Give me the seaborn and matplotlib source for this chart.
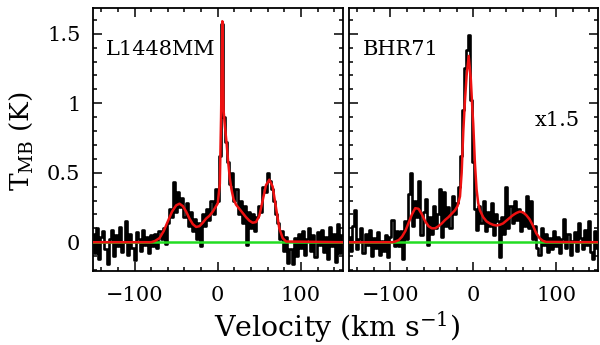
import numpy as np
import pandas as pd
import matplotlib
matplotlib.use("Agg")
import matplotlib.pyplot as plt
import seaborn as sns
from matplotlib.ticker import MultipleLocator, FixedLocator

# ---------------- data ----------------
velocity = np.arange(-150, 150.01, 2.5)  # channel centres, km/s

l1448_T = [
    0.06, -0.08, 0.10, -0.12, 0.04, 0.08, -0.05, -0.16, 0.02, 0.09,
    -0.10, 0.05, -0.03, 0.11, -0.07, 0.00, 0.15, -0.09, 0.06, -0.04,
    -0.13, 0.07, 0.02, -0.06, 0.09, -0.02, 0.04, -0.08, 0.05, -0.03,
    0.06, -0.04, 0.08, 0.02, 0.10, -0.01, 0.14, 0.24, 0.18, 0.43,
    0.22, 0.36, 0.25, 0.32, 0.18, 0.28, 0.12, 0.22, 0.08, 0.17,
    0.02, 0.14, -0.03, 0.20, 0.12, 0.24, 0.16, 0.30, 0.20, 0.38,
    0.30, 0.62, 1.57, 0.90, 0.72, 0.58, 0.42, 0.50, 0.30, 0.38,
    0.20, 0.30, 0.14, 0.26, -0.02, 0.22, 0.10, 0.20, 0.08, 0.18,
    0.26, 0.22, 0.40, 0.36, 0.50, 0.44, 0.38, 0.30, 0.20, 0.14,
    0.02, 0.08, -0.06, 0.04, -0.15, -0.05, -0.16, 0.03, -0.10, 0.06,
    -0.04, 0.08, -0.09, 0.02, 0.10, -0.06, 0.05, -0.11, 0.07, -0.02,
    0.09, -0.07, 0.04, -0.12, 0.11, -0.03, 0.06, -0.14, 0.13, -0.08, 0.05,
]

bhr71_T = [
    0.04, -0.06, 0.12, 0.23, -0.05, 0.02, 0.10, -0.08, 0.06, -0.02,
    0.09, -0.10, 0.03, -0.04, 0.07, -0.09, 0.01, -0.06, 0.05, -0.11,
    0.04, 0.16, -0.03, 0.08, -0.03, 0.08, -0.12, 0.15, 0.02, 0.35,
    0.50, 0.12, 0.30, 0.18, 0.44, 0.05, 0.22, 0.31, -0.02, 0.18,
    0.06, 0.26, 0.10, 0.20, 0.38, 0.04, 0.36, 0.12, 0.25, 0.10,
    0.33, 0.20, 0.28, 0.40, 0.62, 0.95, 1.25, 1.38, 1.49, 1.02,
    0.58, 0.24, 0.09, 0.26, 0.14, 0.30, 0.08, 0.22, 0.12, 0.28,
    0.05, 0.20, 0.15, -0.11, 0.18, 0.06, 0.40, 0.10, 0.26, 0.14,
    0.30, 0.16, 0.24, 0.08, 0.20, 0.12, 0.33, 0.10, 0.30, 0.02,
    0.12, -0.04, -0.09, 0.10, -0.02, 0.06, -0.07, 0.03, -0.05, 0.08,
    -0.03, 0.04, -0.08, 0.02, 0.17, -0.04, 0.06, -0.09, 0.01, 0.07,
    -0.06, 0.14, 0.03, -0.05, 0.09, -0.02, 0.15, -0.07, -0.12, 0.08, -0.04,
]

# model fits
l1448_fit_v = [-150, -80, -75, -70, -65, -60, -55, -50, -46, -42, -38, -34, -30,
               -26, -22, -18, -14, -10, -6, -3, 0, 2.5, 4, 5.5, 7, 8.5, 10.5,
               12.5, 14.5, 16.5, 19, 22, 26, 30, 34, 38, 42, 46, 50, 54, 58,
               62, 66, 70, 74, 78, 82, 150]
l1448_fit_T = [0, 0, 0.01, 0.03, 0.08, 0.15, 0.22, 0.265, 0.277, 0.26, 0.22,
               0.17, 0.13, 0.11, 0.115, 0.14, 0.17, 0.19, 0.22, 0.25, 0.28,
               0.42, 0.90, 1.59, 0.95, 0.84, 0.72, 0.58, 0.46, 0.38, 0.31,
               0.27, 0.24, 0.21, 0.18, 0.155, 0.14, 0.145, 0.19, 0.30, 0.41,
               0.45, 0.40, 0.25, 0.10, 0.03, 0.005, 0]

bhr71_fit_v = [-150, -98, -94, -90, -86, -82, -78, -74, -70, -66, -62, -58,
               -54, -50, -46, -42, -38, -34, -30, -26, -22, -19, -16, -14, -12,
               -10, -8, -5.5, -3, -1, 0, 2, 4, 6, 8, 12, 16, 20, 24, 28, 32,
               36, 40, 44, 48, 52, 56, 60, 64, 68, 72, 76, 80, 84, 88, 150]
bhr71_fit_T = [0, 0, 0.005, 0.015, 0.04, 0.08, 0.14, 0.20, 0.245, 0.24, 0.20,
               0.15, 0.115, 0.10, 0.10, 0.115, 0.135, 0.16, 0.18, 0.205, 0.23,
               0.26, 0.33, 0.50, 0.80, 1.02, 1.20, 1.34, 1.18, 0.95, 0.85,
               0.57, 0.38, 0.28, 0.23, 0.18, 0.15, 0.135, 0.125, 0.12, 0.125,
               0.135, 0.155, 0.175, 0.195, 0.21, 0.22, 0.215, 0.195, 0.165,
               0.12, 0.065, 0.03, 0.01, 0.002, 0]

panel_names = ["L1448MM", "BHR71"]
scale_note = "x1.5"
xticks_major = [-100, 0, 100]
xtick_labels = ["\u2212100", "0", "100"]
yticks_major = [0, 0.5, 1, 1.5]
ytick_labels = ["0", "0.5", "1", "1.5"]

# ---------------- plotting ----------------
sns.set_theme(style="ticks")
plt.rcParams["font.family"] = ["DejaVu Serif"]
plt.rcParams["mathtext.fontset"] = "dejavuserif"
plt.rcParams["text.color"] = "black"
plt.rcParams["axes.labelcolor"] = "black"

fig = plt.figure(figsize=(6.0, 3.45), dpi=100)
W, H = 600.0, 345.0
bottom_px, top_px = 270.7, 8.0
axL = fig.add_axes([93 / W, 1 - bottom_px / H, 249.5 / W, (bottom_px - top_px) / H])
axR = fig.add_axes([349 / W, 1 - bottom_px / H, 248.5 / W, (bottom_px - top_px) / H])

spectra = [(axL, l1448_T, l1448_fit_v, l1448_fit_T),
           (axR, bhr71_T, bhr71_fit_v, bhr71_fit_T)]

for i, (ax, T, fv, fT) in enumerate(spectra):
    df = pd.DataFrame({"v": velocity, "T": T})
    fit = pd.DataFrame({"v": fv, "T": fT})
    sns.lineplot(data=df, x="v", y="T", ax=ax, color="black", lw=1.9,
                 drawstyle="steps-mid", estimator=None, sort=False, zorder=2)
    ax.axhline(0, color="#22dd22", lw=1.8, zorder=3)
    sns.lineplot(data=fit, x="v", y="T", ax=ax, color="#ee1111", lw=1.8,
                 estimator=None, sort=False, zorder=4)
    ax.set_xlim(-150, 150)
    ax.set_ylim(-0.205, 1.685)
    ax.xaxis.set_major_locator(FixedLocator(xticks_major))
    ax.xaxis.set_minor_locator(MultipleLocator(20))
    ax.yaxis.set_major_locator(FixedLocator(yticks_major))
    ax.yaxis.set_minor_locator(MultipleLocator(0.1))
    ax.tick_params(which="both", direction="in", top=True, right=True,
                   width=1.1, colors="black")
    ax.tick_params(which="major", length=6.5)
    ax.tick_params(which="minor", length=3.2)
    ax.tick_params(axis="x", which="major", labelsize=15, pad=11)
    ax.tick_params(axis="y", which="major", labelsize=15, pad=9)
    for s in ax.spines.values():
        s.set_linewidth(1.3)
        s.set_color("black")
    ax.set_xlabel("")
    ax.set_ylabel("")
    ax.set_xticklabels(xtick_labels)
    if i == 0:
        ax.set_yticklabels(ytick_labels)
    else:
        ax.set_yticklabels([])
    ax.text(0.05 if i == 0 else 0.056, 0.821, panel_names[i],
            transform=ax.transAxes, fontsize=15, ha="left", va="baseline",
            color="black")

axR.text(0.93, 0.551, scale_note, transform=axR.transAxes, fontsize=15,
         ha="right", va="baseline", color="black")

fig.text(337 / W, 1 - 327 / H, "Velocity (km s$^{-1}$)", fontsize=20.5,
         ha="center", va="center", color="black")
fig.text(21 / W, 1 - 141 / H, "T$_{\\rm MB}$ (K)", fontsize=19, rotation=90,
         ha="center", va="center", color="black")

fig.savefig("out.png", dpi=100)
